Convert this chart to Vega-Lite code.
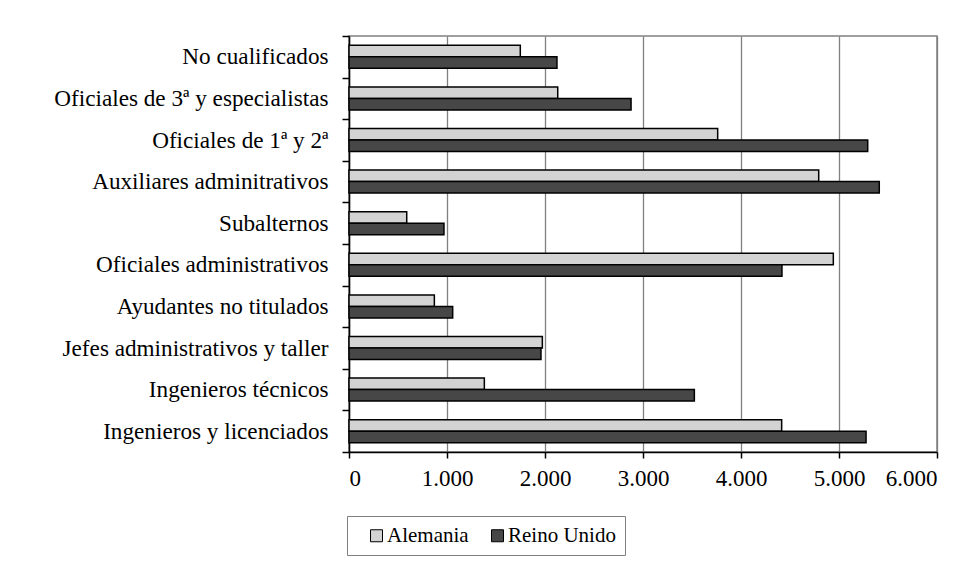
{
  "$schema": "https://vega.github.io/schema/vega-lite/v6.json",
  "width": 588,
  "height": 416,
  "autosize": {"type": "none"},
  "padding": {"left": 349, "top": 36, "right": 42, "bottom": 117},
  "background": "white",
  "config": {
    "font": "Liberation Serif",
    "view": {"stroke": "#808080", "strokeWidth": 1.5}
  },
  "data": {
    "values": [
      {"cat": "No cualificados", "pais": "Alemania", "valor": 1748},
      {"cat": "No cualificados", "pais": "Reino Unido", "valor": 2122},
      {"cat": "Oficiales de 3ª y especialistas", "pais": "Alemania", "valor": 2130},
      {"cat": "Oficiales de 3ª y especialistas", "pais": "Reino Unido", "valor": 2878},
      {"cat": "Oficiales de 1ª y 2ª", "pais": "Alemania", "valor": 3762},
      {"cat": "Oficiales de 1ª y 2ª", "pais": "Reino Unido", "valor": 5293},
      {"cat": "Auxiliares adminitrativos", "pais": "Alemania", "valor": 4793},
      {"cat": "Auxiliares adminitrativos", "pais": "Reino Unido", "valor": 5411},
      {"cat": "Subalternos", "pais": "Alemania", "valor": 589},
      {"cat": "Subalternos", "pais": "Reino Unido", "valor": 969},
      {"cat": "Oficiales administrativos", "pais": "Alemania", "valor": 4942},
      {"cat": "Oficiales administrativos", "pais": "Reino Unido", "valor": 4418},
      {"cat": "Ayudantes no titulados", "pais": "Alemania", "valor": 871},
      {"cat": "Ayudantes no titulados", "pais": "Reino Unido", "valor": 1058},
      {"cat": "Jefes administrativos y taller", "pais": "Alemania", "valor": 1973},
      {"cat": "Jefes administrativos y taller", "pais": "Reino Unido", "valor": 1959},
      {"cat": "Ingenieros técnicos", "pais": "Alemania", "valor": 1381},
      {"cat": "Ingenieros técnicos", "pais": "Reino Unido", "valor": 3524},
      {"cat": "Ingenieros y licenciados", "pais": "Alemania", "valor": 4415},
      {"cat": "Ingenieros y licenciados", "pais": "Reino Unido", "valor": 5276}
    ]
  },
  "mark": {"type": "bar", "stroke": "black", "strokeWidth": 1.5},
  "encoding": {
    "y": {
      "field": "cat",
      "type": "nominal",
      "sort": null,
      "scale": {"paddingInner": 0, "paddingOuter": 0},
      "axis": {
        "title": null,
        "tickBand": "extent",
        "tickSize": 7,
        "tickColor": "black",
        "tickWidth": 1.5,
        "domainColor": "black",
        "domainWidth": 1.5,
        "labelFont": "Liberation Serif",
        "labelFontSize": 23.2,
        "labelColor": "black",
        "labelPadding": 14,
        "labelLimit": 400,
        "grid": false
      }
    },
    "yOffset": {
      "field": "pais",
      "type": "nominal",
      "sort": ["Alemania", "Reino Unido"],
      "scale": {"paddingInner": 0, "paddingOuter": 0.81}
    },
    "x": {
      "field": "valor",
      "type": "quantitative",
      "scale": {"domain": [0, 6000], "nice": false},
      "axis": {
        "title": null,
        "values": [0, 1000, 2000, 3000, 4000, 5000, 6000],
        "grid": true,
        "gridColor": "#808080",
        "gridWidth": 1.3,
        "tickSize": 6,
        "tickColor": "black",
        "tickWidth": 1.5,
        "domainColor": "black",
        "domainWidth": 1.5,
        "labelFont": "Liberation Serif",
        "labelFontSize": 23,
        "labelColor": "black",
        "labelPadding": 9,
        "labelExpr": "replace(format(datum.value, ','), ',', '.')"
      }
    },
    "color": {
      "field": "pais",
      "type": "nominal",
      "scale": {"domain": ["Alemania", "Reino Unido"], "range": ["#d3d3d3", "#474747"]},
      "legend": {
        "orient": "none",
        "legendX": -2,
        "legendY": 480,
        "direction": "horizontal",
        "title": null,
        "labelFont": "Liberation Serif",
        "labelFontSize": 21,
        "labelColor": "black",
        "symbolType": "square",
        "symbolSize": 144,
        "symbolStrokeColor": "black",
        "symbolStrokeWidth": 1,
        "symbolOffset": 10,
        "strokeColor": "#808080",
        "fillColor": "white",
        "padding": 9,
        "columnPadding": 8,
        "labelOffset": 0
      }
    }
  }
}
